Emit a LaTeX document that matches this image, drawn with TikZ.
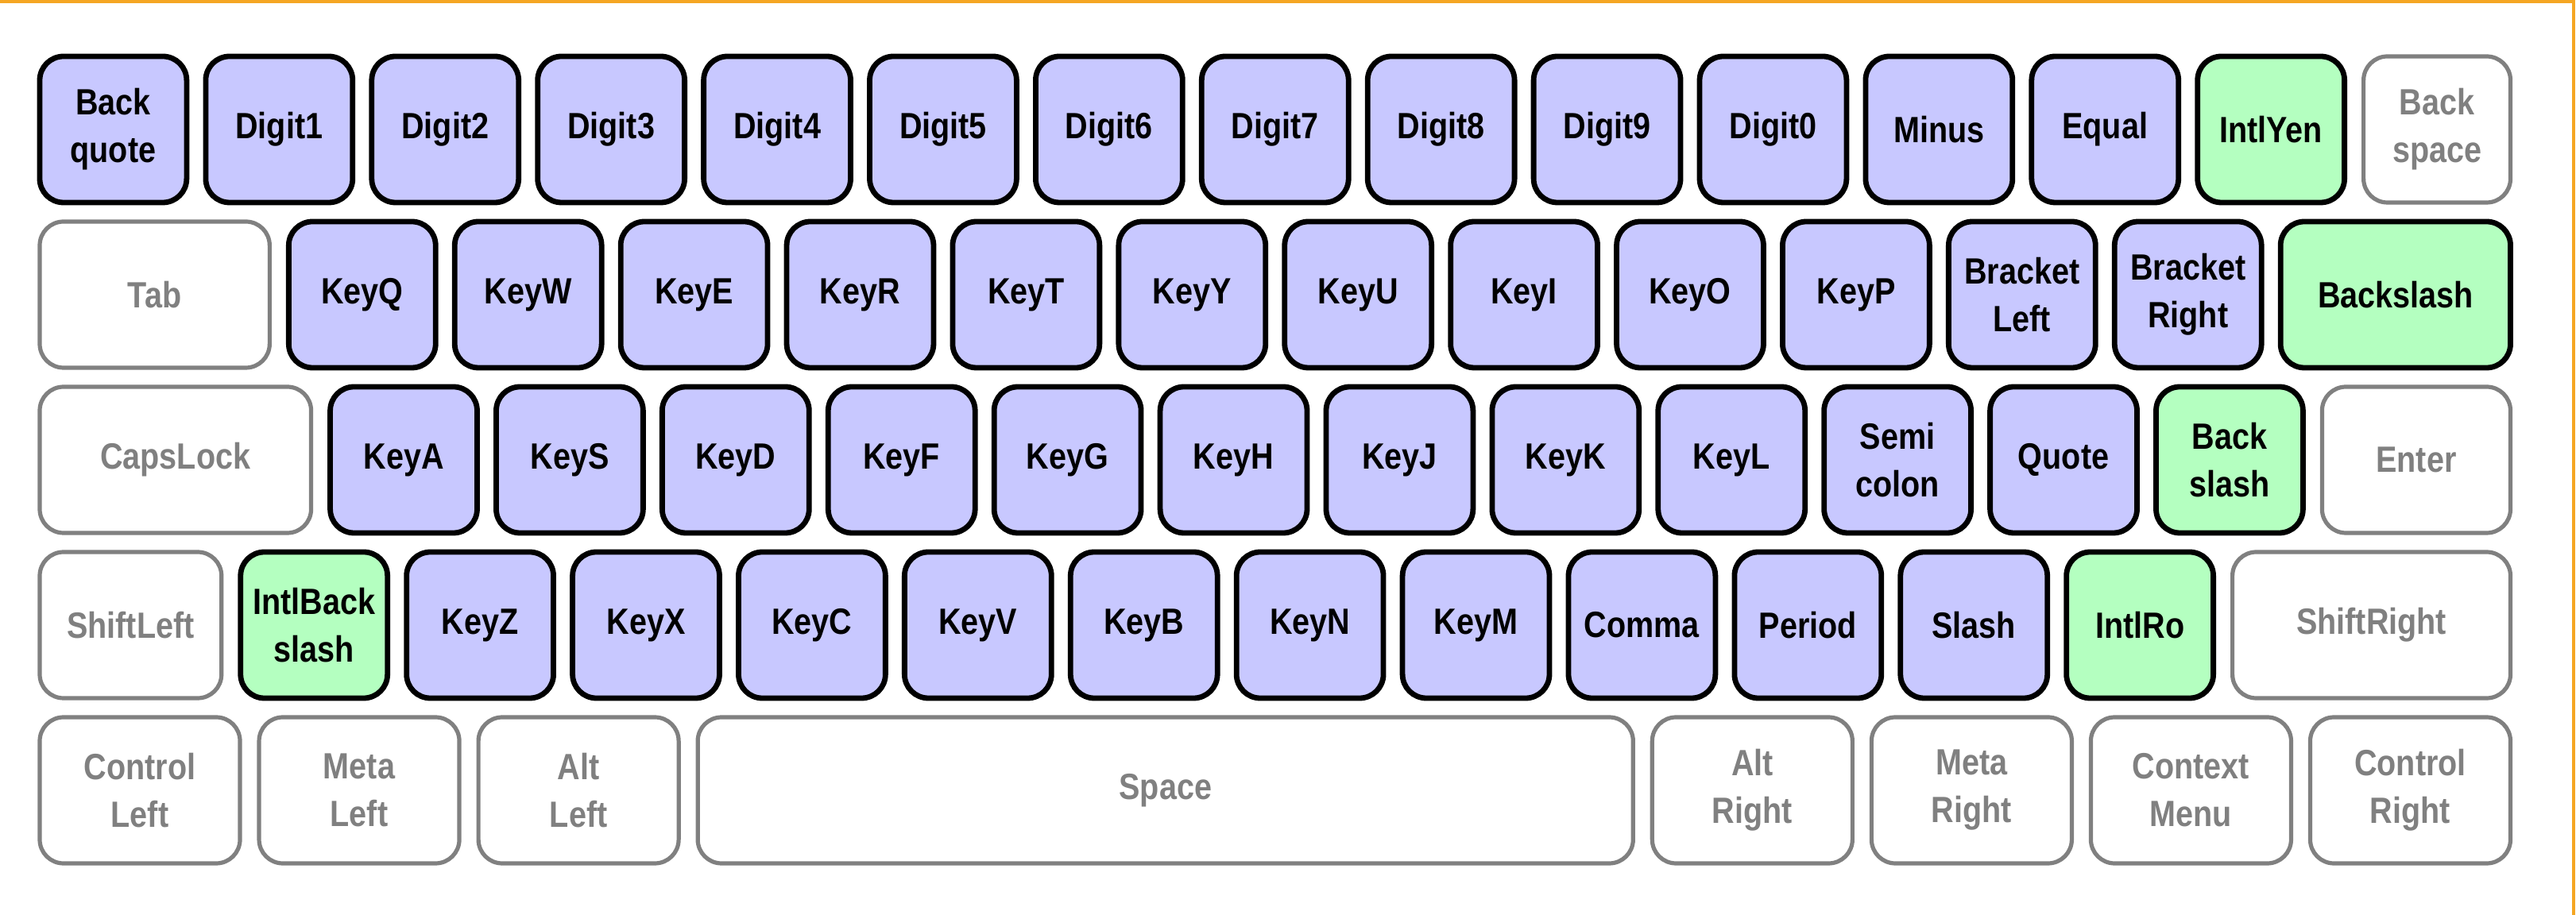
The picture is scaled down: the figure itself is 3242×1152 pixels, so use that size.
\documentclass[tikz,border=0pt]{standalone}
\usepackage{fontspec}
\setmainfont{Liberation Sans}[FakeStretch=0.86]
\definecolor{keyblue}{RGB}{200,200,255}
\definecolor{keygreen}{RGB}{180,255,192}
\definecolor{keygray}{RGB}{128,128,128}
\definecolor{frameorange}{RGB}{245,166,35}
\newcommand\kk[6]{%
  \pgfmathsetmacro\kx{47+(#4+#5/2)*208.9-9}%
  \pgfmathsetmacro\ky{68+#3*208+95}%
  \pgfmathsetmacro\kw{(#5*208.9-18-6)*0.25}%
  \node[#2, minimum width=\kw pt] (#1) at (\kx,\ky) {#6};%
}
\tikzset{
  keybase/.style={rectangle, rounded corners=7.5pt, minimum height=46pt, inner sep=0pt,
    align=center, font=\fontsize{11.5}{15}\selectfont\bfseries},
  bluekey/.style={keybase, draw=black, line width=1.7pt, fill=keyblue, text=black},
  greenkey/.style={keybase, draw=black, line width=1.7pt, fill=keygreen, text=black},
  graykey/.style={keybase, draw=keygray, line width=1.3pt, fill=white, text=keygray},
}
\begin{document}
\begin{tikzpicture}[x=0.25pt,y=-0.25pt]
\useasboundingbox (0,0) rectangle (3242,1152);
\fill[white] (0,0) rectangle (3242,1152);
\draw[frameorange, line width=1pt] (0,2) -- (3239,2) coordinate (fc) -- (3239,1152);
% row 0
\kk{Backquote}{bluekey}{0}{0}{1}{Back\\quote}
\kk{Digit1}{bluekey}{0}{1}{1}{Digit1}
\kk{Digit2}{bluekey}{0}{2}{1}{Digit2}
\kk{Digit3}{bluekey}{0}{3}{1}{Digit3}
\kk{Digit4}{bluekey}{0}{4}{1}{Digit4}
\kk{Digit5}{bluekey}{0}{5}{1}{Digit5}
\kk{Digit6}{bluekey}{0}{6}{1}{Digit6}
\kk{Digit7}{bluekey}{0}{7}{1}{Digit7}
\kk{Digit8}{bluekey}{0}{8}{1}{Digit8}
\kk{Digit9}{bluekey}{0}{9}{1}{Digit9}
\kk{Digit0}{bluekey}{0}{10}{1}{Digit0}
\kk{Minus}{bluekey}{0}{11}{1}{Minus}
\kk{Equal}{bluekey}{0}{12}{1}{Equal}
\kk{IntlYen}{greenkey}{0}{13}{1}{IntlYen}
\kk{Backspace}{graykey}{0}{14}{1}{Back\\space}
% row 1
\kk{Tab}{graykey}{1}{0}{1.5}{Tab}
\kk{KeyQ}{bluekey}{1}{1.5}{1}{KeyQ}
\kk{KeyW}{bluekey}{1}{2.5}{1}{KeyW}
\kk{KeyE}{bluekey}{1}{3.5}{1}{KeyE}
\kk{KeyR}{bluekey}{1}{4.5}{1}{KeyR}
\kk{KeyT}{bluekey}{1}{5.5}{1}{KeyT}
\kk{KeyY}{bluekey}{1}{6.5}{1}{KeyY}
\kk{KeyU}{bluekey}{1}{7.5}{1}{KeyU}
\kk{KeyI}{bluekey}{1}{8.5}{1}{KeyI}
\kk{KeyO}{bluekey}{1}{9.5}{1}{KeyO}
\kk{KeyP}{bluekey}{1}{10.5}{1}{KeyP}
\kk{BracketLeft}{bluekey}{1}{11.5}{1}{Bracket\\Left}
\kk{BracketRight}{bluekey}{1}{12.5}{1}{Bracket\\Right}
\kk{Backslash}{greenkey}{1}{13.5}{1.5}{Backslash}
% row 2
\kk{CapsLock}{graykey}{2}{0}{1.75}{CapsLock}
\kk{KeyA}{bluekey}{2}{1.75}{1}{KeyA}
\kk{KeyS}{bluekey}{2}{2.75}{1}{KeyS}
\kk{KeyD}{bluekey}{2}{3.75}{1}{KeyD}
\kk{KeyF}{bluekey}{2}{4.75}{1}{KeyF}
\kk{KeyG}{bluekey}{2}{5.75}{1}{KeyG}
\kk{KeyH}{bluekey}{2}{6.75}{1}{KeyH}
\kk{KeyJ}{bluekey}{2}{7.75}{1}{KeyJ}
\kk{KeyK}{bluekey}{2}{8.75}{1}{KeyK}
\kk{KeyL}{bluekey}{2}{9.75}{1}{KeyL}
\kk{Semicolon}{bluekey}{2}{10.75}{1}{Semi\\colon}
\kk{Quote}{bluekey}{2}{11.75}{1}{Quote}
\kk{BackslashB}{greenkey}{2}{12.75}{1}{Back\\slash}
\kk{Enter}{graykey}{2}{13.75}{1.25}{Enter}
% row 3
\kk{ShiftLeft}{graykey}{3}{0}{1.21}{ShiftLeft}
\kk{IntlBackslash}{greenkey}{3}{1.21}{1}{IntlBack\\slash}
\kk{KeyZ}{bluekey}{3}{2.21}{1}{KeyZ}
\kk{KeyX}{bluekey}{3}{3.21}{1}{KeyX}
\kk{KeyC}{bluekey}{3}{4.21}{1}{KeyC}
\kk{KeyV}{bluekey}{3}{5.21}{1}{KeyV}
\kk{KeyB}{bluekey}{3}{6.21}{1}{KeyB}
\kk{KeyN}{bluekey}{3}{7.21}{1}{KeyN}
\kk{KeyM}{bluekey}{3}{8.21}{1}{KeyM}
\kk{Comma}{bluekey}{3}{9.21}{1}{Comma}
\kk{Period}{bluekey}{3}{10.21}{1}{Period}
\kk{Slash}{bluekey}{3}{11.21}{1}{Slash}
\kk{IntlRo}{greenkey}{3}{12.21}{1}{IntlRo}
\kk{ShiftRight}{graykey}{3}{13.21}{1.79}{ShiftRight}
% row 4
\kk{ControlLeft}{graykey}{4}{0}{1.3214}{Control\\Left}
\kk{MetaLeft}{graykey}{4}{1.3214}{1.3214}{Meta\\Left}
\kk{AltLeft}{graykey}{4}{2.6429}{1.3214}{Alt\\Left}
\kk{Space}{graykey}{4}{3.9643}{5.75}{Space}
\kk{AltRight}{graykey}{4}{9.7143}{1.3214}{Alt\\Right}
\kk{MetaRight}{graykey}{4}{11.0357}{1.3214}{Meta\\Right}
\kk{ContextMenu}{graykey}{4}{12.3571}{1.3214}{Context\\Menu}
\kk{ControlRight}{graykey}{4}{13.6786}{1.3214}{Control\\Right}
\end{tikzpicture}
\end{document}
